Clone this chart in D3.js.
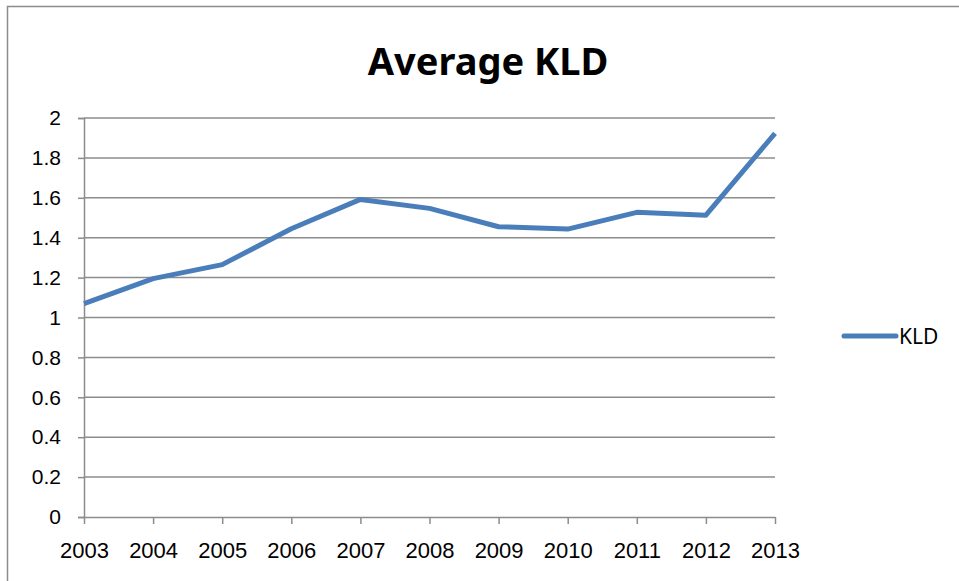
<!DOCTYPE html>
<html>
<head>
<meta charset="utf-8">
<script src="https://cdn.jsdelivr.net/npm/d3@7"></script>
<style>
  body { margin: 0; background: #fff; }
  svg { font-family: "Noto Sans", "Open Sans", sans-serif; }
</style>
</head>
<body>
<svg width="959" height="581"></svg>
<script>
// data
const years = ["2003","2004","2005","2006","2007","2008","2009","2010","2011","2012","2013"]
const kld = [1.07, 1.195, 1.265, 1.445, 1.592, 1.547, 1.455, 1.443, 1.527, 1.513, 1.923]
const yTicks = [0, 0.2, 0.4, 0.6, 0.8, 1, 1.2, 1.4, 1.6, 1.8, 2]

const svg = d3.select('svg')

// outer chart border
svg.append('rect')
    .attr('x', 7.5)
    .attr('y', 6.5)
    .attr('width', 1000)
    .attr('height', 1000)
    .style('fill', 'none')
    .style('stroke', '#8c8c8c')
    .style('stroke-width', 1.5)

const plotLeft = 84, plotRight = 775, plotTop = 118, plotBottom = 517

const x = d3.scalePoint().domain(years).range([plotLeft, plotRight])
const y = d3.scaleLinear().domain([0, 2]).range([plotBottom, plotTop])

// gridlines
svg.append('g').selectAll('line')
    .data(yTicks.filter(d => d > 0))
    .join('line')
    .attr('x1', plotLeft)
    .attr('x2', plotRight)
    .attr('y1', d => y(d))
    .attr('y2', d => y(d))
    .style('stroke', '#8c8c8c')
    .style('stroke-width', 1.5)

// y axis
const yAxis = svg.append('g')
    .attr('transform', `translate(${plotLeft},0)`)
    .call(d3.axisLeft(y).tickValues(yTicks).tickSize(6).tickPadding(17).tickFormat(d3.format('')))
yAxis.select('.domain').style('stroke', '#8c8c8c').style('stroke-width', 1.5)
yAxis.selectAll('.tick line').style('stroke', '#8c8c8c').style('stroke-width', 1.5)
yAxis.selectAll('text').style('font-size', '21px').style('fill', '#000')

// x axis
const xAxis = svg.append('g')
    .attr('transform', `translate(0,${plotBottom})`)
    .call(d3.axisBottom(x).tickSize(7).tickSizeOuter(0).tickPadding(18))
xAxis.select('.domain').style('stroke', '#8c8c8c').style('stroke-width', 1.5)
xAxis.selectAll('.tick line').style('stroke', '#8c8c8c').style('stroke-width', 1.5)
xAxis.selectAll('text').style('font-size', '22px').style('fill', '#000')

// the line
const line = d3.line()
    .x((d, i) => x(years[i]))
    .y(d => y(d))

svg.append('path')
    .datum(kld)
    .attr('d', line)
    .style('fill', 'none')
    .style('stroke', '#4a7ebb')
    .style('stroke-width', 5)
    .style('stroke-linejoin', 'round')

// title
svg.append('text')
    .attr('x', 488)
    .attr('y', 75)
    .attr('text-anchor', 'middle')
    .style('font-size', '38px')
    .style('font-weight', 'bold')
    .text('Average KLD')

// legend
svg.append('line')
    .attr('x1', 844)
    .attr('x2', 896)
    .attr('y1', 336)
    .attr('y2', 336)
    .style('stroke', '#4a7ebb')
    .style('stroke-width', 5)
    .style('stroke-linecap', 'round')

svg.append('text')
    .attr('x', 899)
    .attr('y', 344)
    .style('font-size', '21px')
    .text('KLD')
</script>
</body>
</html>
